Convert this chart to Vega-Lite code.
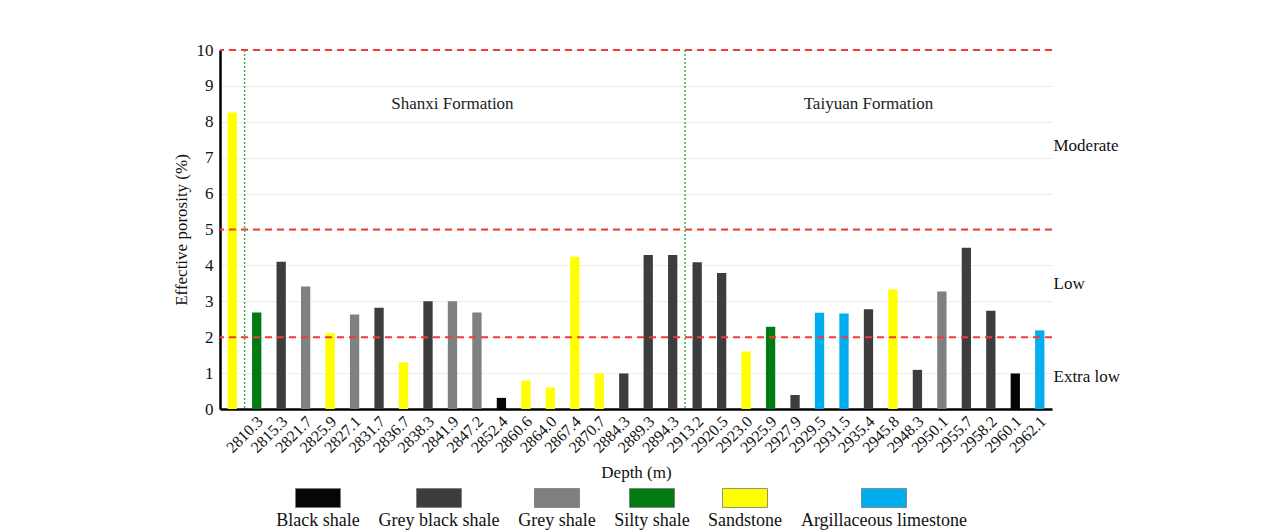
{
  "$schema": "https://vega.github.io/schema/vega-lite/v6.json",
  "width": 832,
  "height": 359,
  "autosize": {"type": "none"},
  "padding": {"left": 220, "top": 50, "right": 232, "bottom": 123},
  "background": "white",
  "config": {
    "view": {"stroke": null},
    "font": "Liberation Serif",
    "axis": {
      "labelFont": "Liberation Serif",
      "titleFont": "Liberation Serif",
      "labelColor": "#111",
      "titleColor": "#111",
      "titleFontWeight": "normal"
    },
    "axisX": {
      "title": "Depth (m)",
      "titleFontSize": 17,
      "titlePadding": 9,
      "labelAngle": -45,
      "labelFontSize": 16,
      "labelPadding": 4,
      "labelOffset": -2,
      "ticks": false,
      "domainColor": "#000",
      "domainWidth": 2.5
    }
  },
  "layer": [
    {
      "data": {
        "values": [
          {"depth": "", "porosity": 8.26, "lith": "Sandstone"},
          {"depth": "2810.3", "porosity": 2.69, "lith": "Silty shale"},
          {"depth": "2815.3", "porosity": 4.1, "lith": "Grey black shale"},
          {"depth": "2821.7", "porosity": 3.41, "lith": "Grey shale"},
          {"depth": "2825.9", "porosity": 2.11, "lith": "Sandstone"},
          {"depth": "2827.1", "porosity": 2.63, "lith": "Grey shale"},
          {"depth": "2831.7", "porosity": 2.82, "lith": "Grey black shale"},
          {"depth": "2836.7", "porosity": 1.3, "lith": "Sandstone"},
          {"depth": "2838.3", "porosity": 3.0, "lith": "Grey black shale"},
          {"depth": "2841.9", "porosity": 3.0, "lith": "Grey shale"},
          {"depth": "2847.2", "porosity": 2.69, "lith": "Grey shale"},
          {"depth": "2852.4", "porosity": 0.31, "lith": "Black shale"},
          {"depth": "2860.6", "porosity": 0.79, "lith": "Sandstone"},
          {"depth": "2864.0", "porosity": 0.6, "lith": "Sandstone"},
          {"depth": "2867.4", "porosity": 4.24, "lith": "Sandstone"},
          {"depth": "2870.7", "porosity": 0.99, "lith": "Sandstone"},
          {"depth": "2884.3", "porosity": 0.99, "lith": "Grey black shale"},
          {"depth": "2889.3", "porosity": 4.29, "lith": "Grey black shale"},
          {"depth": "2894.3", "porosity": 4.29, "lith": "Grey black shale"},
          {"depth": "2913.2", "porosity": 4.09, "lith": "Grey black shale"},
          {"depth": "2920.5", "porosity": 3.79, "lith": "Grey black shale"},
          {"depth": "2923.0", "porosity": 1.6, "lith": "Sandstone"},
          {"depth": "2925.9", "porosity": 2.29, "lith": "Silty shale"},
          {"depth": "2927.9", "porosity": 0.39, "lith": "Grey black shale"},
          {"depth": "2929.5", "porosity": 2.68, "lith": "Argillaceous limestone"},
          {"depth": "2931.5", "porosity": 2.66, "lith": "Argillaceous limestone"},
          {"depth": "2935.4", "porosity": 2.78, "lith": "Grey black shale"},
          {"depth": "2945.8", "porosity": 3.33, "lith": "Sandstone"},
          {"depth": "2948.3", "porosity": 1.09, "lith": "Grey black shale"},
          {"depth": "2950.1", "porosity": 3.27, "lith": "Grey shale"},
          {"depth": "2955.7", "porosity": 4.49, "lith": "Grey black shale"},
          {"depth": "2958.2", "porosity": 2.74, "lith": "Grey black shale"},
          {"depth": "2960.1", "porosity": 0.99, "lith": "Black shale"},
          {"depth": "2962.1", "porosity": 2.19, "lith": "Argillaceous limestone"}
        ]
      },
      "mark": {"type": "bar"},
      "encoding": {
        "x": {
          "field": "depth",
          "type": "ordinal",
          "title": "Depth (m)",
          "scale": {
            "domain": ["", "2810.3", "2815.3", "2821.7", "2825.9", "2827.1", "2831.7", "2836.7", "2838.3", "2841.9", "2847.2", "2852.4", "2860.6", "2864.0", "2867.4", "2870.7", "2884.3", "2889.3", "2894.3", "2913.2", "2920.5", "2923.0", "2925.9", "2927.9", "2929.5", "2931.5", "2935.4", "2945.8", "2948.3", "2950.1", "2955.7", "2958.2", "2960.1", "2962.1"],
            "paddingInner": 0.62,
            "paddingOuter": 0.31
          }
        },
        "y": {
          "field": "porosity",
          "type": "quantitative",
          "scale": {"domain": [0, 10], "nice": false},
          "axis": {
            "title": "Effective porosity (%)",
            "titleFontSize": 17,
            "titlePadding": 6,
            "values": [0, 1, 2, 3, 4, 5, 6, 7, 8, 9, 10],
            "labelFontSize": 17,
            "labelPadding": 7,
            "ticks": false,
            "domainColor": "#000",
            "domainWidth": 2.5,
            "grid": true,
            "gridColor": "#ececec",
            "gridWidth": 1
          }
        },
        "color": {
          "field": "lith",
          "type": "nominal",
          "scale": {
            "domain": ["Black shale", "Grey black shale", "Grey shale", "Silty shale", "Sandstone", "Argillaceous limestone"],
            "range": ["#060606", "#3d3d3d", "#808080", "#007a12", "#ffff00", "#00aeef"]
          },
          "legend": {
            "title": null,
            "orient": "none",
            "direction": "horizontal",
            "legendX": 98,
            "legendY": 448,
            "symbolType": "M-1,-0.42H1V0.42H-1Z",
            "symbolSize": 2025,
            "symbolStrokeColor": "#777",
            "symbolStrokeWidth": 0.8,
            "symbolOpacity": 1,
            "labelFont": "Liberation Serif",
            "labelFontSize": 18,
            "labelColor": "#111",
            "labelLimit": 0,
            "columnPadding": 18,
            "encode": {
              "symbols": {"update": {"x": {"value": 0}, "y": {"value": 0}}},
              "labels": {"update": {"x": {"value": 0}, "y": {"value": 28}, "align": {"value": "center"}, "baseline": {"value": "alphabetic"}}}
            }
          }
        }
      }
    },
    {
      "data": {"values": [{"level": 2}, {"level": 5}, {"level": 10}]},
      "mark": {"type": "rule", "color": "#f03a3a", "strokeWidth": 2, "strokeDash": [7, 5]},
      "encoding": {
        "y": {
          "field": "level",
          "type": "quantitative",
          "axis": {
            "orient": "right",
            "title": null,
            "values": [0.9, 3.5, 7.35],
            "labelExpr": "datum.value < 2 ? 'Extra low' : datum.value < 5 ? 'Low' : 'Moderate'",
            "labelFontSize": 17,
            "labelPadding": 1,
            "labelAlign": "left",
            "ticks": false,
            "domain": false,
            "grid": false
          }
        }
      }
    },
    {
      "data": {"values": [{"depth": "2810.3"}, {"depth": "2913.2"}]},
      "mark": {"type": "rule", "color": "#45b04f", "strokeWidth": 1.5, "strokeDash": [2, 2]},
      "encoding": {
        "x": {"field": "depth", "type": "ordinal", "title": "Depth (m)", "bandPosition": -0.8}
      }
    },
    {
      "data": {
        "values": [
          {"depth": "2841.9", "y": 8.5, "name": "Shanxi Formation"},
          {"depth": "2935.4", "y": 8.5, "name": "Taiyuan Formation"}
        ]
      },
      "mark": {"type": "text", "fontSize": 17, "color": "#222", "font": "Liberation Serif"},
      "encoding": {
        "x": {"field": "depth", "type": "ordinal", "title": "Depth (m)"},
        "y": {"field": "y", "type": "quantitative", "axis": null},
        "text": {"field": "name"}
      }
    }
  ],
  "resolve": {"axis": {"y": "independent"}}
}
